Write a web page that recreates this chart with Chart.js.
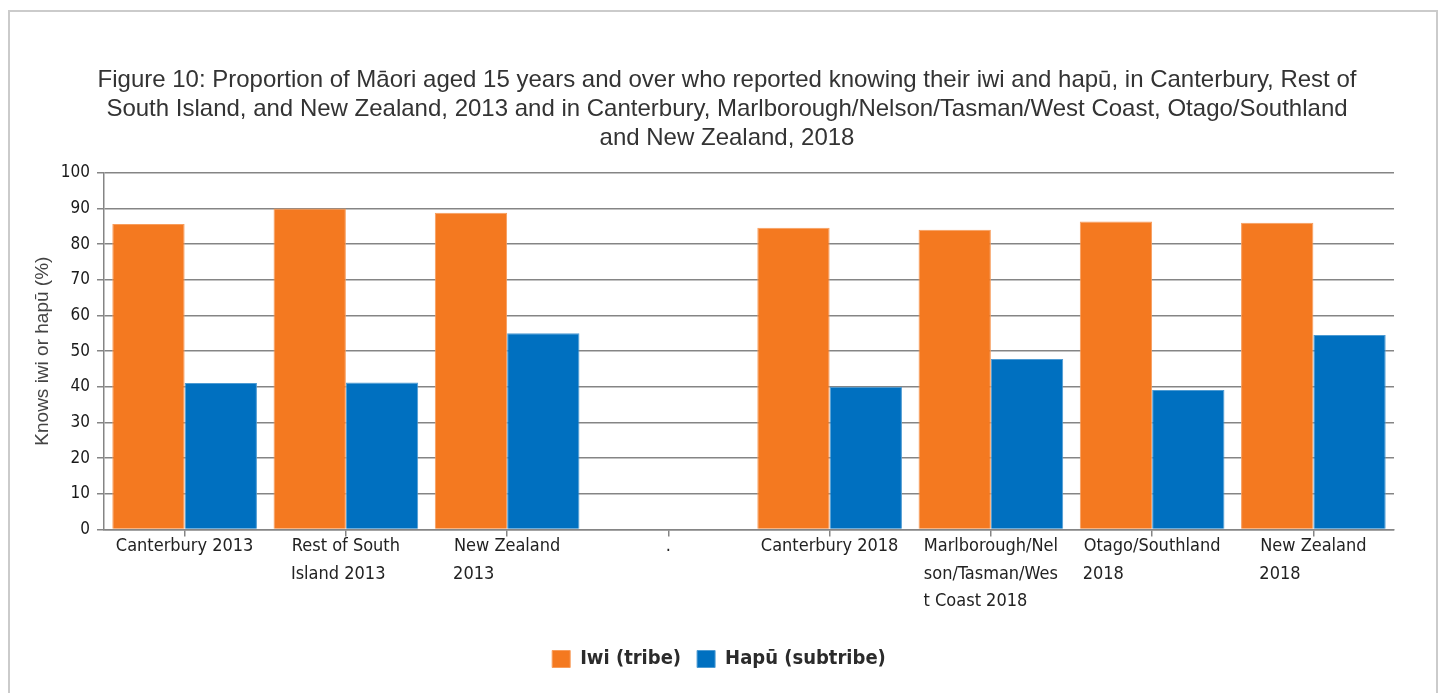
<!DOCTYPE html>
<html>
<head>
<meta charset="utf-8">
<script src="https://cdn.jsdelivr.net/npm/chart.js@4.4.1/dist/chart.umd.min.js"></script>
<style>
  html, body { margin: 0; padding: 0; background: #fff; overflow: hidden; }
  #frame { position: absolute; left: 8px; top: 10px; width: 1426px; height: 800px; border: 2px solid #cbcbcb; }
  #c { position: absolute; left: 0; top: 0; }
</style>
</head>
<body>
<div id="frame"></div>
<canvas id="c" width="1441" height="693"></canvas>
<script>
// ---- data ----
const titleLines = [
  "Figure 10: Proportion of M\u0101ori aged 15 years and over who reported knowing their iwi and hap\u016b, in Canterbury, Rest of",
  "South Island, and New Zealand, 2013 and in Canterbury, Marlborough/Nelson/Tasman/West Coast, Otago/Southland",
  "and New Zealand, 2018"
];
const categories = [
  ["Canterbury 2013"],
  ["Rest of South", "Island 2013"],
  ["New Zealand", "2013"],
  ["."],
  ["Canterbury 2018"],
  ["Marlborough/Nel", "son/Tasman/Wes", "t Coast 2018"],
  ["Otago/Southland", "2018"],
  ["New Zealand", "2018"]
];
const seriesNames = ["Iwi (tribe)", "Hap\u016b (subtribe)"];
const iwi  = [85.6, 90.0, 88.8, null, 84.6, 84.0, 86.3, 86.0];
const hapu = [41.1, 41.2, 55.0, null, 40.0, 47.8, 39.1, 54.5];
const yMin = 0, yMax = 100, yStep = 10;
const yTitle = "Knows iwi or hap\u016b (%)";

// ---- styling ----
const COND = '"DejaVu Sans Condensed", "DejaVu Sans", sans-serif';
const GRID = '#858585';
const X_FONT_SIZE = 18;
const LEGEND_SHIFT = -8;
const measureCtx = document.createElement('canvas').getContext('2d');
function padLines(lines) {
  measureCtx.font = X_FONT_SIZE + 'px ' + COND;
  const w = lines.map(l => measureCtx.measureText(l).width);
  const max = Math.max(...w);
  const sp = measureCtx.measureText(' ').width;
  return lines.map((l, i) => l + ' '.repeat(Math.max(0, Math.round((max - w[i]) / sp))));
}

const legendShift = {
  id: 'legendShift',
  afterLayout(chart) {
    const lg = chart.legend;
    if (lg) { lg.left += LEGEND_SHIFT; lg.right += LEGEND_SHIFT; }
  }
};

new Chart(document.getElementById('c'), {
  type: 'bar',
  plugins: [legendShift],
  data: {
    labels: categories,
    datasets: [
      { label: seriesNames[0], data: iwi, backgroundColor: '#F47920', borderColor: '#F89D5C', borderWidth: 1 },
      { label: seriesNames[1], data: hapu, backgroundColor: '#0070C0', borderColor: '#4D9BD3', borderWidth: 1 }
    ]
  },
  options: {
    responsive: false,
    animation: false,
    devicePixelRatio: 1,
    categoryPercentage: 0.897,
    barPercentage: 1.0,
    layout: { padding: { left: 60, right: 47, top: 0, bottom: 14 } },
    plugins: {
      tooltip: { enabled: false },
      title: {
        display: true,
        text: titleLines,
        color: '#333',
        font: { family: '"Liberation Sans", Arial, sans-serif', size: 24, weight: 'normal', lineHeight: 29 / 24 },
        padding: { top: 65.5, bottom: 20.2 }
      },
      legend: {
        position: 'bottom',
        labels: {
          boxWidth: 18, boxHeight: 17, padding: 16,
          color: '#2b2b2b',
          font: { family: COND, size: 20, weight: 'bold' }
        }
      }
    },
    scales: {
      x: {
        offset: true,
        grid: { display: true, drawOnChartArea: false, drawTicks: true, offset: false, tickLength: 7, color: GRID, lineWidth: 1.5 },
        border: { display: true, color: GRID, width: 1.5 },
        ticks: {
          autoSkip: false, maxRotation: 0, minRotation: 0, padding: -4,
          color: '#222',
          font: { family: COND, size: X_FONT_SIZE, lineHeight: 27.5 / X_FONT_SIZE },
          callback: function (value, index) { return padLines(categories[index]); }
        },
        afterFit: function (scale) { scale.height = 103.4; }
      },
      y: {
        min: yMin, max: yMax,
        grid: { color: GRID, lineWidth: 1.5, tickLength: 7 },
        border: { display: true, color: GRID, width: 1.5 },
        ticks: {
          stepSize: yStep, padding: 7, color: '#1a1a1a',
          font: { family: COND, size: 17 }
        },
        title: {
          display: true, text: yTitle, color: '#444',
          font: { family: '"Liberation Sans", Arial, sans-serif', size: 19 },
          padding: { top: -28.4, bottom: 0 }
        },
        afterFit: function (scale) { scale.width = 44; }
      }
    }
  }
});
</script>
</body>
</html>
